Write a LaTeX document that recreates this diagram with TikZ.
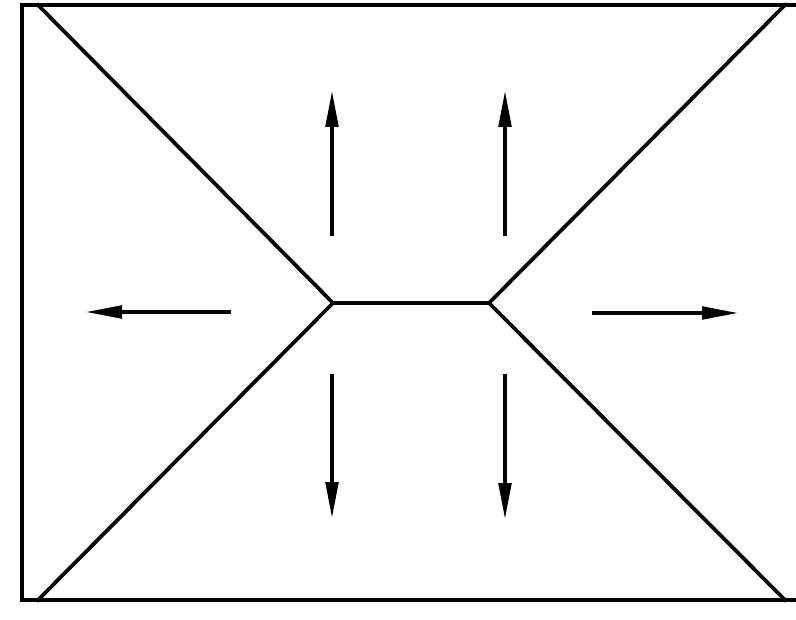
\documentclass[tikz,border=0pt]{standalone}
\usetikzlibrary{arrows.meta}
\begin{document}
\begin{tikzpicture}[x=0.75pt,y=-0.75pt,
  edge/.style={line width=2.8pt,line cap=rect,line join=miter},
  flow/.style={line width=2.4pt,-{Triangle[length=27pt,width=9.5pt]}}]
\useasboundingbox (0,0) rectangle (796,620);
% outline corners
\coordinate (tl) at (22,5);
\coordinate (bl) at (22,600);
\coordinate (tr) at (800,5);
\coordinate (br) at (800,600);
% roof corners
\coordinate (dtl) at (38,5);
\coordinate (dbl) at (38,600);
\coordinate (dtr) at (785,5);
\coordinate (dbr) at (785,600);
% ridge
\coordinate (rl) at (333,303);
\coordinate (rr) at (489,303);
\draw[edge] (tr) -- (tl) -- (bl) -- (br);
\draw[edge] (dtl) -- (rl) -- (dbl);
\draw[edge] (dtr) -- (rr) -- (dbr);
\draw[edge] (rl) -- (rr);
% arrows
\coordinate (u1a) at (332,236); \coordinate (u1b) at (332,91);
\coordinate (u2a) at (505,236); \coordinate (u2b) at (505,91);
\coordinate (d1a) at (332,374); \coordinate (d1b) at (332,518);
\coordinate (d2a) at (505,374); \coordinate (d2b) at (505,519);
\coordinate (la) at (231,312); \coordinate (lb) at (86,312);
\coordinate (ra) at (592,313); \coordinate (rb) at (738,313);
\draw[flow] (u1a) -- (u1b);
\draw[flow] (u2a) -- (u2b);
\draw[flow] (d1a) -- (d1b);
\draw[flow] (d2a) -- (d2b);
\draw[flow] (la) -- (lb);
\draw[flow] (ra) -- (rb);
\end{tikzpicture}
\end{document}
